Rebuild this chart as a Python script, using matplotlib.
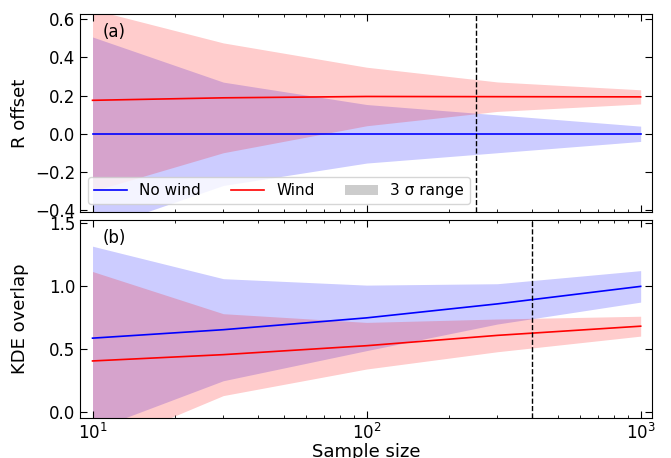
import numpy as np
import matplotlib.pyplot as plt
from matplotlib.patches import Patch
from matplotlib.lines import Line2D

# sample sizes used for the bootstrap
sample_size = [10, 30, 100, 300, 1000]

# panel (a): R offset, mean and 3 sigma half width
roff_nowind = [0.0, 0.0, 0.0, 0.0, 0.0]
roff_nowind_3sig = [0.506, 0.27, 0.153, 0.099, 0.04]
roff_wind = [0.175, 0.188, 0.195, 0.194, 0.193]
roff_wind_3sig = [0.475, 0.287, 0.153, 0.077, 0.037]

# panel (b): KDE overlap, mean and 3 sigma half width
kde_nowind = [0.589, 0.656, 0.75, 0.861, 1.0]
kde_nowind_3sig = [0.73, 0.405, 0.26, 0.16, 0.125]
kde_wind = [0.408, 0.458, 0.529, 0.611, 0.684]
kde_wind_3sig = [0.71, 0.325, 0.185, 0.13, 0.079]

# convergence markers
vline_a = 250
vline_b = 400

fig, (ax1, ax2) = plt.subplots(2, 1, sharex=True, figsize=(6.71, 4.58), dpi=100)
fig.subplots_adjust(left=0.1192, right=0.9717, top=0.9694, bottom=0.0873, hspace=0.04)

def draw_panel(ax, m_nw, s_nw, m_w, s_w, vx):
    x = np.array(sample_size)
    m_nw, s_nw = np.array(m_nw), np.array(s_nw)
    m_w, s_w = np.array(m_w), np.array(s_w)
    ax.fill_between(x, m_nw - s_nw, m_nw + s_nw, color='b', alpha=0.2, lw=0)
    ax.fill_between(x, m_w - s_w, m_w + s_w, color='r', alpha=0.2, lw=0)
    ax.plot(x, m_nw, color='b', lw=1.2)
    ax.plot(x, m_w, color='r', lw=1.2)
    ax.axvline(vx, color='k', ls='--', lw=1)
    ax.set_xscale('log')
    ax.tick_params(which='both', direction='in', top=True, right=True, labelsize=12)
    ax.tick_params(which='major', length=5)

draw_panel(ax1, roff_nowind, roff_nowind_3sig, roff_wind, roff_wind_3sig, vline_a)
draw_panel(ax2, kde_nowind, kde_nowind_3sig, kde_wind, kde_wind_3sig, vline_b)

ax1.set_xlim(9.0, 1100)
ax1.set_ylim(-0.409, 0.626)
ax1.set_yticks([-0.4, -0.2, 0.0, 0.2, 0.4, 0.6])
ax2.set_ylim(-0.045, 1.527)
ax2.set_yticks([0.0, 0.5, 1.0, 1.5])

ax1.set_ylabel('R offset', fontsize=13)
ax2.set_ylabel('KDE overlap', fontsize=13)
ax2.set_xlabel('Sample size', fontsize=13, labelpad=0)
fig.align_ylabels([ax1, ax2])

ax1.text(0.04, 0.955, '(a)', transform=ax1.transAxes, fontsize=12, va='top')
ax2.text(0.04, 0.955, '(b)', transform=ax2.transAxes, fontsize=12, va='top')

handles = [Line2D([], [], color='b', lw=1.2),
           Line2D([], [], color='r', lw=1.2),
           Patch(facecolor='k', alpha=0.2, lw=0)]
ax1.legend(handles, ['No wind', 'Wind', '3 σ range'], loc='lower left', ncol=3,
           fontsize=11, handlelength=2.15)

plt.savefig('out.png', dpi=100)
